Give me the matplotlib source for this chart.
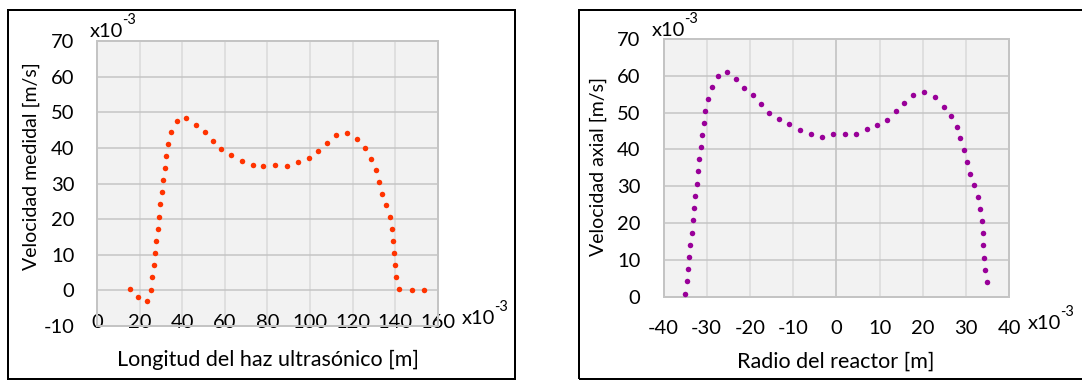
import matplotlib
matplotlib.use("Agg")
import matplotlib.pyplot as plt
from matplotlib.patches import Rectangle

plt.rcParams['font.family'] = ['Lato', 'DejaVu Sans']
plt.rcParams['axes.unicode_minus'] = False

# Velocity measured along the ultrasonic beam (x10^-3 units)
beam_x = [15.4, 19.3, 23.5, 25.1, 25.9, 26.5, 27.3, 27.8, 28.4, 29.1, 29.7,
          30.3, 31.0, 31.6, 32.4, 33.3, 34.7, 37.4, 41.8, 46.2, 50.4, 54.2,
          58.1, 62.9, 67.8, 73.0, 78.1, 83.5, 89.0, 94.4, 99.5, 103.9, 108.0,
          112.2, 117.3, 122.1, 126.0, 128.7, 130.9, 132.3, 133.9, 135.7,
          137.6, 138.5, 139.0, 139.3, 139.8, 140.4, 142.0, 147.8, 153.6]
beam_v = [0.45, -2.0, -3.1, 0.1, 3.6, 7.0, 10.5, 13.9, 17.3, 20.7, 24.2,
          27.5, 30.9, 34.4, 37.8, 41.2, 44.6, 47.6, 48.5, 46.5, 44.5, 41.9,
          39.6, 38.0, 36.4, 35.3, 34.9, 35.1, 35.0, 36.1, 37.1, 39.1, 41.5,
          43.7, 44.3, 42.5, 40.0, 37.0, 33.8, 30.5, 27.1, 23.9,
          20.6, 17.3, 13.8, 10.4, 7.0, 3.6, 0.3, 0.0, 0.0]

# Axial velocity across the reactor radius (x10^-3 units)
radius_x = [-35.0, -34.6, -34.3, -34.0, -33.8, -33.5, -33.2, -32.9, -32.6,
            -32.3, -32.0, -31.7, -31.4, -31.1, -30.7, -30.3, -29.7, -28.8,
            -27.5, -25.3, -23.2, -21.4, -19.4, -17.5, -15.6, -13.2, -10.9,
            -8.5, -5.9, -3.4, -0.8, 1.9, 4.6, 7.0, 9.5, 11.8, 13.7, 15.7,
            17.8, 20.3, 22.9, 24.8, 26.5, 27.8, 28.7, 29.5, 30.1, 30.9, 31.8,
            32.8, 33.3, 33.7, 33.8, 34.0, 34.2, 34.4, 34.8]
radius_v = [0.8, 4.2, 7.4, 10.8, 14.0, 17.4, 20.8, 24.0, 27.4,
            30.6, 34.0, 37.3, 40.6, 43.9, 47.2, 50.5, 53.7, 56.9,
            59.9, 60.9, 59.2, 56.7, 54.7, 52.3, 49.9, 48.3, 46.8,
            45.2, 44.1, 43.4, 44.3, 44.1, 44.3, 45.5, 46.5, 48.0, 50.5, 52.7,
            54.9, 55.5, 54.2, 51.6, 49.1, 46.1, 43.0, 39.9, 36.6, 33.3, 30.2,
            27.1, 23.8, 20.6, 17.2, 14.0, 10.6, 7.3, 4.0]

left_xticks = [0, 20, 40, 60, 80, 100, 120, 140, 160]
left_yticks = [-10, 0, 10, 20, 30, 40, 50, 60, 70]
right_xticks = [-40, -30, -20, -10, 0, 10, 20, 30, 40]
right_yticks = [0, 10, 20, 30, 40, 50, 60, 70]

W, H = 1082, 380
fig = plt.figure(figsize=(W / 100, H / 100), dpi=100)

TICK_FS = 14.5
XLABEL_FS = 15.5
YLABEL_FS = 14
PX = 0.72  # points per pixel at 100 dpi


def style_axes(ax, xticks, yticks, xpad, ypad):
    ax.set_facecolor('#F2F2F2')
    ax.set_xlim(xticks[0], xticks[-1])
    ax.set_ylim(yticks[0], yticks[-1])
    ax.set_xticks(xticks)
    ax.set_yticks(yticks)
    for x in xticks:
        ax.axvline(x, color='#D9D9D9', lw=1.5 * PX, zorder=1)
    for y in yticks:
        ax.axhline(y, color='#C4C4C4', lw=1.5 * PX, zorder=1)
    for s in ax.spines.values():
        s.set_color('#C4C4C4')
        s.set_linewidth(2 * PX)
    ax.tick_params(length=0, labelsize=TICK_FS, colors='black')
    ax.tick_params(axis='x', pad=xpad)
    ax.tick_params(axis='y', pad=ypad)
    for lab in ax.get_xticklabels():
        lab.set_va('center')


def px_to_fig(x, y):
    return x / W, 1 - y / H


def sci_label(x, y):
    # "x10" with a raised exponent, positioned in pixel coordinates
    fx, fy = px_to_fig(x, y)
    fig.text(fx, fy, 'x10', fontsize=TICK_FS, ha='left', va='baseline')
    ex, ey = px_to_fig(x + 32, y - 13)
    fig.text(ex, ey, '-3', fontsize=TICK_FS * 0.72, ha='left', va='baseline')


# Left chart
ax1 = fig.add_axes([97.3 / W, 1 - 325.9 / H, (437.7 - 97.3) / W, (325.9 - 41.1) / H])
style_axes(ax1, left_xticks, left_yticks, xpad=-3 * PX, ypad=23 * PX)
ax1.plot(beam_x, beam_v, linestyle='none', marker='o', markersize=5.5 * PX,
         color='#FF3300', markeredgewidth=0, zorder=3)

# Right chart
ax2 = fig.add_axes([663.5 / W, 1 - 296.7 / H, (1009.3 - 663.5) / W, (296.7 - 38.9) / H])
style_axes(ax2, right_xticks, right_yticks, xpad=32 * PX, ypad=23 * PX)
ax2.axvline(0, color='#C4C4C4', lw=1.5 * PX, zorder=1.5)
ax2.plot(radius_x, radius_v, linestyle='none', marker='o', markersize=5.5 * PX,
         color='#990099', markeredgewidth=0, zorder=3)

# Axis titles
fig.text(*px_to_fig(268, 360), 'Longitud del haz ultrasónico [m]', fontsize=XLABEL_FS,
         ha='center', va='center')
fig.text(*px_to_fig(31, 166), 'Velocidad medidal [m/s]', fontsize=YLABEL_FS,
         ha='center', va='center', rotation=90)
fig.text(*px_to_fig(836, 362), 'Radio del reactor [m]', fontsize=XLABEL_FS,
         ha='center', va='center')
fig.text(*px_to_fig(598, 166), 'Velocidad axial [m/s]', fontsize=YLABEL_FS,
         ha='center', va='center', rotation=90)

# Scale multipliers
sci_label(90, 37)
sci_label(462, 324)
sci_label(652, 36)
sci_label(1028, 329)

# Chart frames
fig.patches.append(Rectangle((7.5 / W, 1 - 379 / H), (515 - 7.5) / W, (379 - 10) / H,
                             transform=fig.transFigure, fill=False,
                             edgecolor='black', linewidth=2 * PX))
fig.patches.append(Rectangle((579 / W, 1 - 379 / H), (1095 - 579) / W, (379 - 10) / H,
                             transform=fig.transFigure, fill=False,
                             edgecolor='black', linewidth=2 * PX))

fig.savefig('out.png', dpi=100)
